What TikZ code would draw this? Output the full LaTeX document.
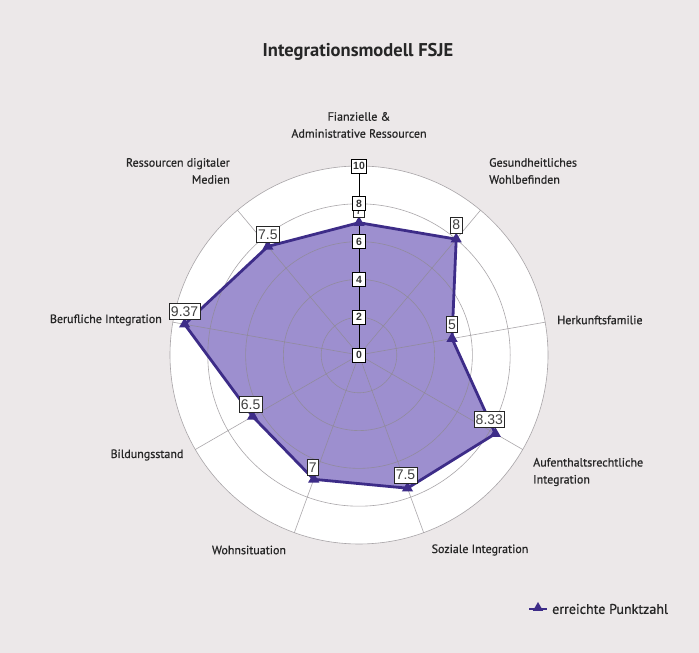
\documentclass[tikz,border=0pt]{standalone}
\usepackage{fontspec}
\setmainfont{PT Sans}
\newfontfamily\labfont{PT Sans}[FakeBold=0.7]
\newfontfamily\valfont{Liberation Sans}
\usetikzlibrary{shapes.geometric}
\definecolor{bg}{HTML}{ECE8E9}
\definecolor{pfill}{HTML}{9D8FCF}
\definecolor{pline}{HTML}{3D2C88}
\definecolor{gridc}{HTML}{8E8A8E}
\begin{document}
\begin{tikzpicture}[x=1pt,y=1pt,
  catlabel/.style={font=\labfont\fontsize{12}{17}\selectfont, text=black!85, inner sep=0},
  valbox/.style={draw=black!85, line width=0.7pt, fill=white, font=\valfont\fontsize{14}{14}\selectfont, inner sep=1.8pt, text=black!75, minimum height=16},
  tickbox/.style={draw=black, line width=0.7pt, fill=white, font=\valfont\bfseries\fontsize{10.5}{10}\selectfont, inner sep=1.6pt, minimum height=14, minimum width=13, text=black!80},
  marker/.style={regular polygon, regular polygon sides=3, fill=pline, inner sep=0, minimum size=13},
  gridline/.style={draw=gridc, line width=0.6pt}
]
\fill[bg] (0,0) rectangle (699,653);
\useasboundingbox (0,0) rectangle (699,653);
\coordinate (C) at (359,298);
\fill[white] (C) circle (189);
\begin{scope}[shift={(359,298)}]
  \foreach \a/\v [count=\i] in {90/7, 50/8, 10/5, -30/8.33, -70/7.5, -110/7, -150/6.5, 170/9.37, 130/7.5}
    \coordinate (v\i) at (\a:{\v*18.9});
  \foreach \a [count=\i] in {90, 50, 10, -30, -70, -110, -150, 170, 130}
    \coordinate (e\i) at (\a:189);
\end{scope}
\fill[pfill] (v1) -- (v2) -- (v3) -- (v4) -- (v5) -- (v6) -- (v7) -- (v8) -- (v9) -- cycle;
\foreach \r in {2,4,6,8,10}
  \draw[gridline, opacity=0.75] (C) circle ({\r*18.9});
\foreach \i in {2,...,9}
  \draw[gridline, opacity=0.75] (C) -- (e\i);
\draw[pline, line width=2.8pt, line join=miter] (v1) -- (v2) -- (v3) -- (v4) -- (v5) -- (v6) -- (v7) -- (v8) -- (v9) -- cycle;
\draw[black, line width=1pt] (C) -- (e1);
\foreach \i in {1,...,9}
  \node[marker] (m\i) at (v\i) {};
% value labels
\node[valbox] (l1) at ([yshift=13]v1) {7};
\node[valbox] (l2) at ([yshift=14]v2) {8};
\node[valbox] (l3) at ([yshift=14]v3) {5};
\node[valbox] (l4) at ([xshift=-6,yshift=14]v4) {8.33};
\node[valbox] (l5) at ([xshift=-2,yshift=13]v5) {7.5};
\node[valbox] (l6) at ([xshift=-1,yshift=12]v6) {7};
\node[valbox] (l7) at ([xshift=-2,yshift=12]v7) {6.5};
\node[valbox] (l8) at ([yshift=13]v8) {9.37};
\node[valbox] (l9) at ([yshift=12]v9) {7.5};
% axis ticks
\begin{scope}[shift={(359,298)}]
  \foreach \t in {0,2,4,6,8,10}
    \node[tickbox] (t\t) at (90:{\t*18.9}) {\t};
\end{scope}
% category labels
\node[catlabel, align=center] (c1) at (359,528) {Fianzielle \&\\Administrative Ressourcen};
\node[catlabel, align=left, anchor=west] (c2) at (489,482) {Gesundheitliches\\Wohlbefinden};
\node[catlabel, anchor=west] (c3) at (557,333) {Herkunftsfamilie};
\node[catlabel, align=left, anchor=west] (c4) at (533,181) {Aufenthaltsrechtliche\\Integration};
\node[catlabel] (c5) at (480,103) {Soziale Integration};
\node[catlabel] (c6) at (249,103) {Wohnsituation};
\node[catlabel] (c7) at (147,198) {Bildungsstand};
\node[catlabel, anchor=east] (c8) at (162,333) {Berufliche Integration};
\node[catlabel, align=right, anchor=east] (c9) at (230,482) {Ressourcen digitaler\\Medien};
% title
\node[font=\bfseries\fontsize{18.5}{18.5}\selectfont, text=black!85] (title) at (358,601) {Integrationsmodell FSJE};
% legend
\coordinate (lg1) at (529,44);
\coordinate (lg2) at (547,44);
\draw[pline, line width=2.8pt] (lg1) -- (lg2);
\node[marker, minimum size=12] (lgm) at (538,45) {};
\node[catlabel, anchor=west, font=\labfont\fontsize{14}{14}\selectfont] (lgt) at (552,44) {erreichte Punktzahl};
\end{tikzpicture}
\end{document}
